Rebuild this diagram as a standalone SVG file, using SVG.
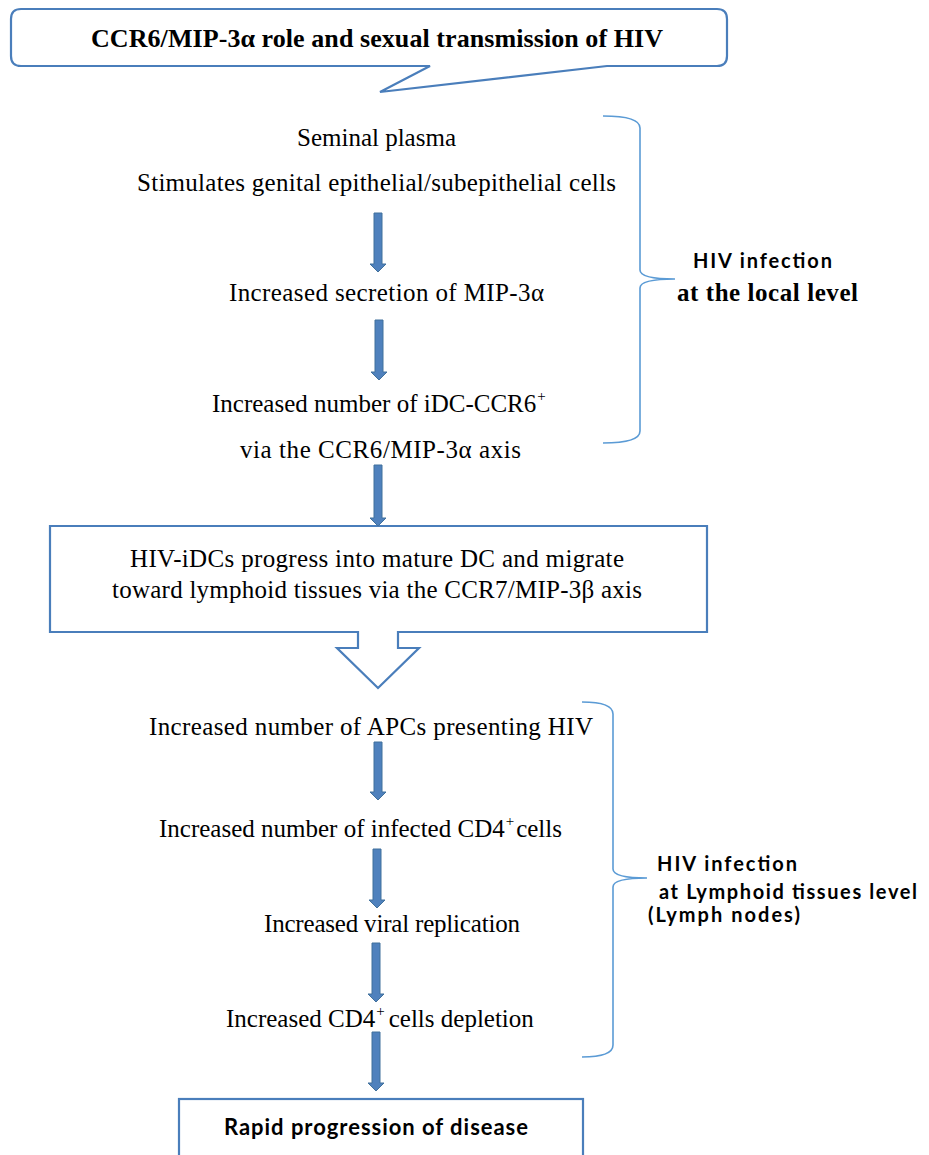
<svg xmlns="http://www.w3.org/2000/svg" width="929" height="1155" viewBox="0 0 929 1155">
<style>
.bg{fill:#ffffff}
.box{fill:#ffffff;stroke:#4A7EBB;stroke-width:2.2;stroke-linejoin:miter}
.arr{fill:#4F81BD;stroke:#41719C;stroke-width:1}
.brace{fill:none;stroke:#5B9BD5;stroke-width:1.6}
.t{font-family:'Liberation Serif','Times New Roman',serif;font-size:25px;fill:#000}
.tb{font-family:'Liberation Serif','Times New Roman',serif;font-size:26px;font-weight:bold;fill:#000}
.sb{font-family:'Lato','Liberation Sans',sans-serif;font-weight:bold;font-size:20px;fill:#000}
.sup{font-size:15px}
</style>
<rect class="bg" x="0" y="0" width="929" height="1155"/>

<g id="title">
<path class="box" d="M21,9 H717 Q727,9 727,19 V56 Q727,66 717,66 H607 L380,92 L430,66 H21 Q11,66 11,56 V19 Q11,9 21,9 Z"/>
<text class="tb" x="91" y="47" textLength="572" lengthAdjust="spacing">CCR6/MIP-3α role and sexual transmission of HIV</text>
</g>

<g id="seminal">
<text class="t" x="297" y="146" textLength="159" lengthAdjust="spacing">Seminal plasma</text>
<text class="t" x="137" y="191" textLength="479" lengthAdjust="spacing">Stimulates genital epithelial/subepithelial cells</text>
</g>

<g id="secretion">
<text class="t" x="229" y="301" textLength="315" lengthAdjust="spacing">Increased secretion of MIP-3α</text>
</g>

<g id="idc">
<text class="t" x="212" y="412">Increased number of iDC-CCR6<tspan class="sup" dx="1" dy="-11">+</tspan></text>
<text class="t" x="240" y="458" textLength="281" lengthAdjust="spacing">via the CCR6/MIP-3α axis</text>
</g>

<g id="local-brace">
<path class="brace" d="M603,116 Q640,116 640,128 L640,270 Q640,279 675,279 Q640,279 640,288 L640,431 Q640,443 603,443"/>
<text class="sb" x="693" y="268" textLength="139" lengthAdjust="spacing">HIV infection</text>
<text class="tb" x="677" y="301" style="font-size:25px" textLength="181" lengthAdjust="spacing">at the local level</text>
</g>

<g id="mature">
<path class="box" d="M50,526 H707 V632 H398 V648 H419 L378,688 L337,648 H358 V632 H50 Z"/>
<text class="t" x="130" y="567" textLength="494" lengthAdjust="spacing">HIV-iDCs progress into mature DC and migrate</text>
<text class="t" x="112" y="598" textLength="530" lengthAdjust="spacing">toward lymphoid tissues via the CCR7/MIP-3β axis</text>
</g>

<g id="apcs">
<text class="t" x="149" y="735" textLength="444" lengthAdjust="spacing">Increased number of APCs presenting HIV</text>
</g>

<g id="infected">
<text class="t" x="159" y="837">Increased number of infected CD4<tspan class="sup" dx="1" dy="-11">+</tspan><tspan dx="2" dy="11">cells</tspan></text>
</g>

<g id="replication">
<text class="t" x="264" y="932" textLength="256" lengthAdjust="spacing">Increased viral replication</text>
</g>

<g id="depletion">
<text class="t" x="226" y="1027">Increased CD4<tspan class="sup" dx="1" dy="-11">+</tspan><tspan dx="4" dy="11">cells depletion</tspan></text>
</g>

<g id="lymph-brace">
<path class="brace" d="M582,702 Q613,702 613,714 L613,869 Q613,878 647,878 Q613,878 613,887 L613,1045 Q613,1057 582,1057"/>
<text class="sb" x="657" y="871" textLength="140" lengthAdjust="spacing">HIV infection</text>
<text class="sb" x="659" y="899" textLength="258" lengthAdjust="spacing">at Lymphoid tissues level</text>
<text class="sb" x="648" y="922" textLength="152" lengthAdjust="spacing">(Lymph nodes)</text>
</g>

<g id="rapid">
<rect class="box" x="179" y="1099" width="404" height="80"/>
<text class="sb" x="224" y="1135" style="font-size:22px" textLength="304" lengthAdjust="spacing">Rapid progression of disease</text>
</g>

<g id="connectors">
<path class="arr" d="M374,213 H382 V264 H386 L378,272 L370,264 H374 Z"/>
<path class="arr" d="M375,320 H383 V372 H387 L379,380 L371,372 H375 Z"/>
<path class="arr" d="M374,465 H382 V518 H386 L378,526 L370,518 H374 Z"/>
<path class="arr" d="M374,742 H382 V792 H386 L378,800 L370,792 H374 Z"/>
<path class="arr" d="M373,849 H381 V900 H385 L377,908 L369,900 H373 Z"/>
<path class="arr" d="M372,943 H380 V994 H384 L376,1002 L368,994 H372 Z"/>
<path class="arr" d="M372,1032 H380 V1083 H384 L376,1091 L368,1083 H372 Z"/>
</g>
</svg>
